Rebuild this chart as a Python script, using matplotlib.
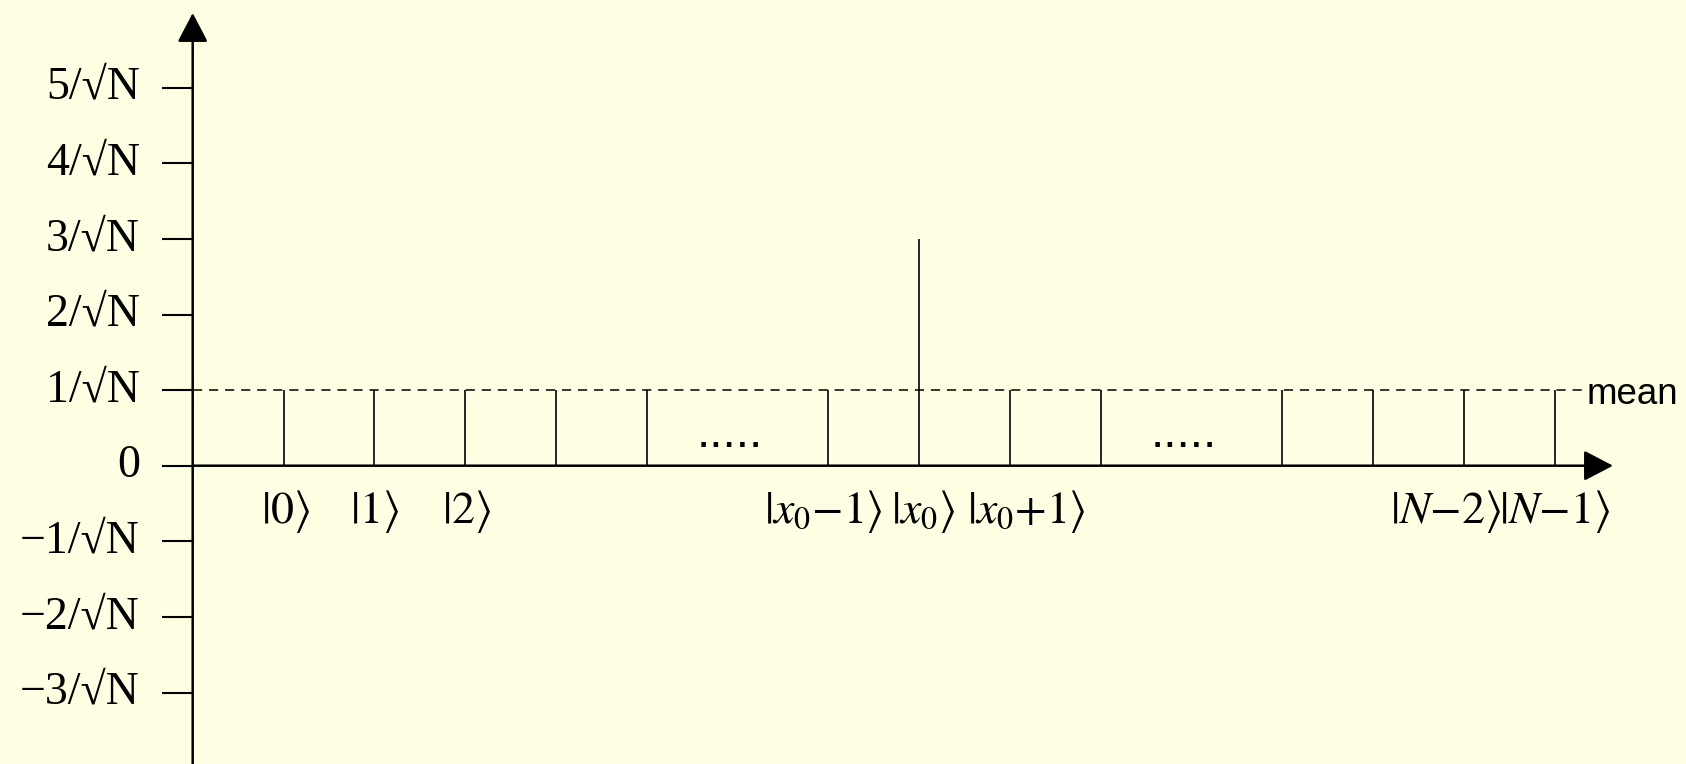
import matplotlib
matplotlib.use("Agg")
import matplotlib.pyplot as plt
import matplotlib.transforms as mtrans

plt.rcParams['mathtext.fontset'] = 'stix'

# ---- data ----
stem_pos = [1, 2, 3, 4, 5, 7, 8, 9, 10, 12, 13, 14, 15]
stem_val = [1, 1, 1, 1, 1, 1, 3, 1, 1, 1, 1, 1, 1]
mean_val = 1
ellipsis_pos = [6, 11]
label_pos = [1, 2, 3, 7, 8, 9, 14, 15]
label_txt = [r'$|0\rangle$', r'$|1\rangle$', r'$|2\rangle$',
             r'$|x_0{-}1\rangle$', r'$|x_0\rangle$', r'$|x_0{+}1\rangle$',
             r'$|N{-}2\rangle$', r'$|N{-}1\rangle$']
label_shift_px = [2, 0, 1, -5, 4, 16, -18, 0]
ytick_vals = [-3, -2, -1, 0, 1, 2, 3, 4, 5]
ytick_txt = ['\u22123/\u221aN', '\u22122/\u221aN', '\u22121/\u221aN', '0',
             '1/\u221aN', '2/\u221aN', '3/\u221aN', '4/\u221aN', '5/\u221aN']

# ---- layout ----
W, H, DPI = 1686, 764, 100
bg = '#FFFFE3'
ox, dxp = 192.7, 90.8     # pixel origin & pixels per slot
oy, dyp = 465.7, 75.6     # pixel origin & pixels per unit

fig = plt.figure(figsize=(W / DPI, H / DPI), dpi=DPI, facecolor=bg)
ax = fig.add_axes([0, 0, 1, 1], facecolor=bg)
ax.set_xlim(-ox / dxp, (W - ox) / dxp)
ax.set_ylim(-(H - oy) / dyp, oy / dyp)
for s in ax.spines.values():
    s.set_visible(False)
ax.spines['left'].set_position(('data', 0))

# axes with arrows
x_tip = (1613 - ox) / dxp
y_tip = (oy - 13) / dyp
arrow_kw = dict(arrowstyle='-|>,head_length=0.9,head_width=0.47',
                mutation_scale=20, lw=1.8, color='black',
                shrinkA=0, shrinkB=0)
ax.annotate('', xy=(x_tip, 0), xytext=(0, 0), arrowprops=arrow_kw)
ax.annotate('', xy=(0, y_tip), xytext=(0, ax.get_ylim()[0]), arrowprops=arrow_kw)

# ticks
ax.set_xticks([])
ax.set_yticks(ytick_vals)
ax.set_yticklabels(ytick_txt, family='Liberation Serif', fontsize=33)
ax.tick_params(axis='y', direction='out', length=22.3, width=1.5, pad=15.8,
               colors='black')
up = mtrans.ScaledTranslation(0, 5 / DPI, fig.dpi_scale_trans)
for lab in ax.get_yticklabels():
    lab.set_transform(lab.get_transform() + up)

# stems
ax.vlines(stem_pos, 0, stem_val, colors='black', lw=1.2)

# mean line
mean_end = (1585 - ox) / dxp
ax.plot([0, mean_end], [mean_val, mean_val], color='black', lw=1.1,
        dashes=(6, 4.5))
ax.text(mean_end, mean_val, 'mean', family='Liberation Sans', fontsize=26.5,
        ha='left', va='center',
        transform=mtrans.offset_copy(ax.transData, fig=fig, x=2, y=-4, units='dots'))

# ellipses
for p in ellipsis_pos:
    ax.text(p, 0.25, '.....', family='Liberation Sans', fontsize=34, ha='center',
            va='baseline',
            transform=mtrans.offset_copy(ax.transData, fig=fig, x=-8, y=0, units='dots'))

# x labels
for p, t, sh in zip(label_pos, label_txt, label_shift_px):
    ax.text(p, -0.6, t, fontsize=33, ha='center', va='center',
            transform=mtrans.offset_copy(ax.transData, fig=fig, x=sh, y=0, units='dots'))

fig.savefig('out.png', dpi=DPI, facecolor=bg)
